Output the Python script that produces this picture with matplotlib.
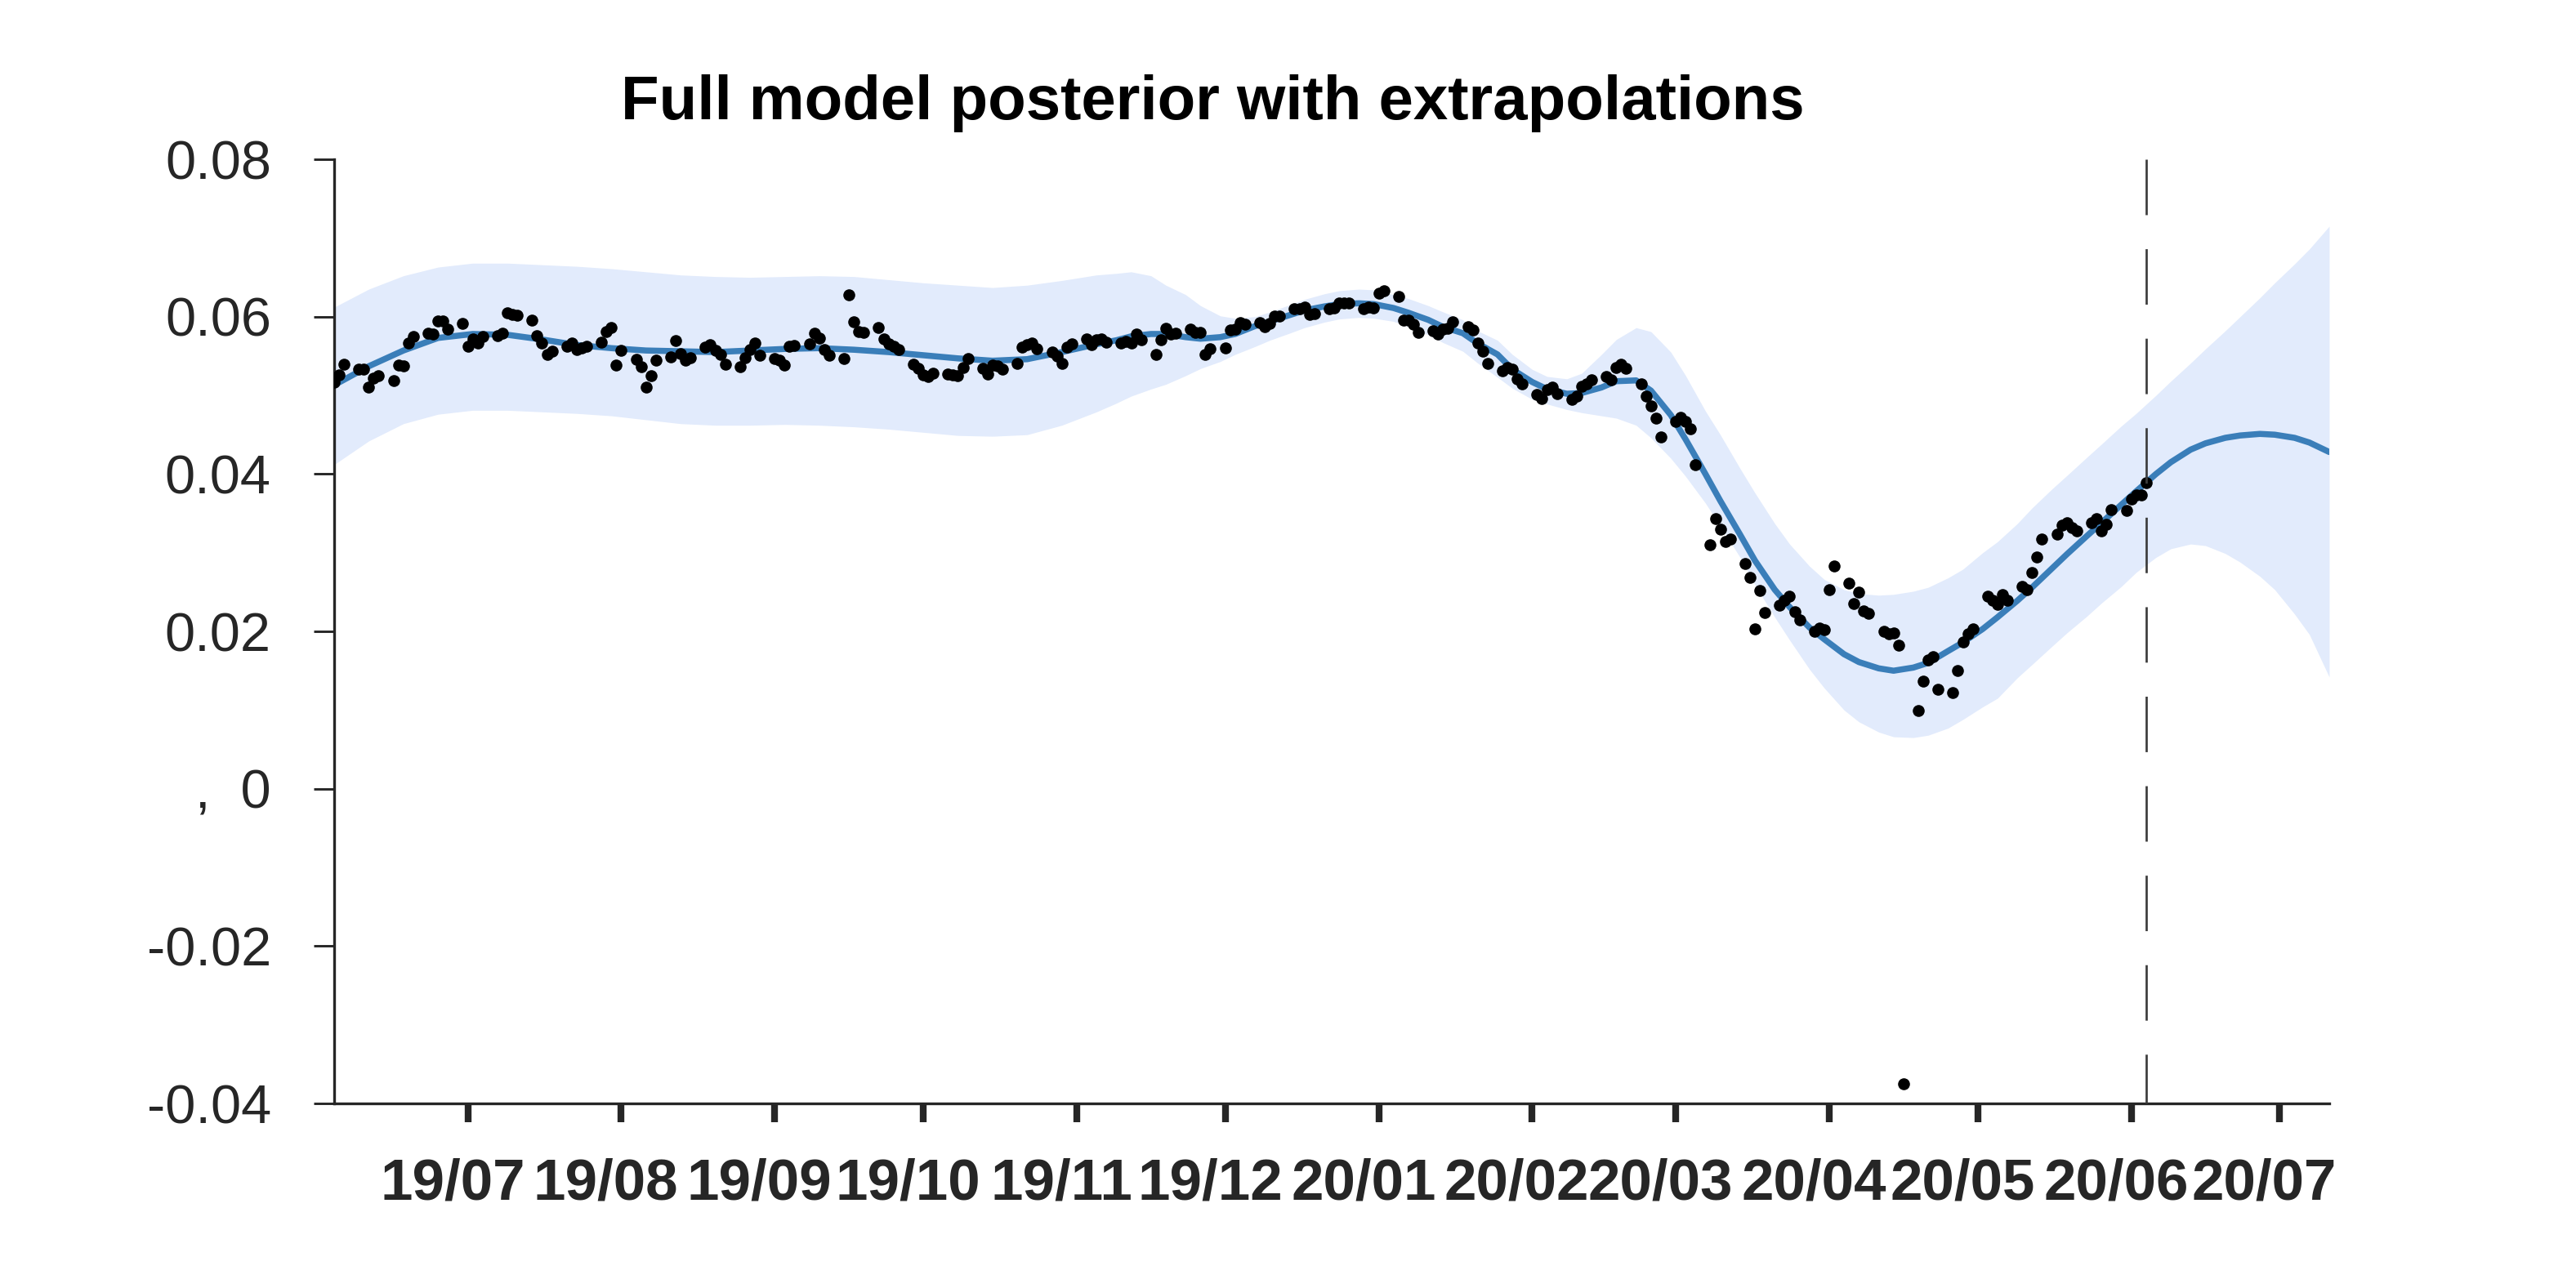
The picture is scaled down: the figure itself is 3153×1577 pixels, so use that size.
import pandas as pd
import numpy as np
import matplotlib
matplotlib.use("Agg")
import matplotlib.pyplot as plt
import matplotlib.dates as mdates
import matplotlib.transforms as mtransforms

plt.rcParams['font.family'] = ['Liberation Sans', 'DejaVu Sans']
plt.rcParams['lines.scale_dashes'] = False

# observed values, one per trading day (263 points, Jun 2019 - Jun 2020)
obs_start = "2019-06-05"
obs_values = [
    0.0517, 0.0526, 0.0539,
    0.0533, 0.0533, 0.0510, 0.0522, 0.0525,
    0.0519, 0.0538, 0.0537, 0.0566, 0.0575,
    0.0579, 0.0578, 0.0595, 0.0595, 0.0584,
    0.0591, 0.0562, 0.0572, 0.0567, 0.0575,
    0.0576, 0.0579, 0.0605, 0.0603, 0.0602,
    0.0596, 0.0576, 0.0567, 0.0552, 0.0556,
    0.0562, 0.0567, 0.0558, 0.0560, 0.0562,
    0.0568, 0.0581, 0.0586, 0.0538, 0.0557,
    0.0546, 0.0536, 0.0510, 0.0525, 0.0545,
    0.0549, 0.0570, 0.0553, 0.0545, 0.0548,
    0.0561, 0.0564, 0.0557, 0.0552, 0.0540,
    0.0536, 0.0548, 0.0558, 0.0566, 0.0551,
    # Sep - Nov 2019
    0.0547, 0.0545, 0.0538, 0.0562, 0.0563,
    0.0565, 0.0579, 0.0573, 0.0558, 0.0551,
    0.0547, 0.0628, 0.0593, 0.0581, 0.0580,
    0.0586, 0.0572, 0.0565, 0.0562, 0.0558,
    0.0540, 0.0534, 0.0526, 0.0524, 0.0528,
    0.0527, 0.0526, 0.0525, 0.0535, 0.0547,
    0.0534, 0.0527, 0.0538, 0.0537, 0.0533,
    0.0541, 0.0561, 0.0564, 0.0567, 0.0559,
    0.0555, 0.0550, 0.0541, 0.0561, 0.0565,
    0.0572, 0.0564, 0.0571, 0.0572, 0.0568,
    0.0567, 0.0569, 0.0567, 0.0578, 0.0571,
    0.0552, 0.0571, 0.0585, 0.0578,
    # Nov 2019 - Feb 2020
    0.0579, 0.0584, 0.0580, 0.0580, 0.0552,
    0.0559, 0.0560, 0.0583, 0.0584, 0.0592,
    0.0590, 0.0592, 0.0587, 0.0591, 0.0601,
    0.0601, 0.0610, 0.0610, 0.0612, 0.0603,
    0.0604, 0.0610, 0.0611, 0.0617, 0.0617,
    0.0617, 0.0610, 0.0612, 0.0611, 0.0630,
    0.0633, 0.0626, 0.0596, 0.0596, 0.0590,
    0.0580, 0.0582, 0.0578, 0.0584, 0.0585,
    0.0593, 0.0587, 0.0583, 0.0567, 0.0556,
    0.0541, 0.0531, 0.0535, 0.0533, 0.0521,
    0.0515, 0.0501, 0.0496, 0.0507, 0.0510,
    0.0502, 0.0495, 0.0499, 0.0512, 0.0515,
    0.0520,
    # Feb - May 2020
    0.0524, 0.0520, 0.0535, 0.0540, 0.0534,
    0.0515, 0.0499, 0.0487, 0.0471, 0.0447,
    0.0467, 0.0472, 0.0467, 0.0458, 0.0412,
    0.0310, 0.0343, 0.0330, 0.0314, 0.0317,
    0.0286, 0.0269, 0.0203, 0.0252, 0.0224,
    0.0233, 0.0240, 0.0245, 0.0225, 0.0215,
    0.0200, 0.0204, 0.0202, 0.0253, 0.0283,
    0.0261, 0.0235, 0.0250, 0.0226, 0.0223,
    0.0200, 0.0197, 0.0198, 0.0182, -0.0375,
    0.0099, 0.0137, 0.0164, 0.0168, 0.0126,
    0.0122, 0.0150, 0.0187, 0.0197, 0.0203,
    0.0245, 0.0240, 0.0234, 0.0247,
    # May - Jun 2020
    0.0240, 0.0257, 0.0253, 0.0275, 0.0294,
    0.0317, 0.0324, 0.0335, 0.0338, 0.0332,
    0.0328, 0.0338, 0.0343, 0.0328, 0.0336,
    0.0355, 0.0354, 0.0368, 0.0373, 0.0373,
    0.0389,
]

# posterior curve, part 1: weekly knots 2019-06-04 .. 2019-11-05
weekly_start = "2019-06-04"
weekly_mean = [
    0.0513, 0.0537, 0.0557, 0.0573, 0.0578, 0.0577, 0.0571, 0.0564, 0.0560, 0.0557,
    0.0556, 0.0555, 0.0557, 0.0559, 0.0560, 0.0558, 0.0555, 0.0551, 0.0547, 0.0544,
    0.0546, 0.0555, 0.0565,
]
weekly_upper = [
    0.0612, 0.0635, 0.0652, 0.0663, 0.0668, 0.0668, 0.0666, 0.0664, 0.0661, 0.0657,
    0.0653, 0.0651, 0.0650, 0.0651, 0.0652, 0.0651, 0.0647, 0.0643, 0.0640, 0.0637,
    0.0640, 0.0646, 0.0653,
]
weekly_lower = [
    0.0412, 0.0442, 0.0464, 0.0476, 0.0481, 0.0481, 0.0479, 0.0477, 0.0474, 0.0469,
    0.0464, 0.0462, 0.0462, 0.0463, 0.0462, 0.0460, 0.0457, 0.0453, 0.0449, 0.0448,
    0.0450, 0.0462, 0.0479,
]

# part 2: knots every Saturday and Tuesday 2019-11-09 .. 2020-07-11
dense_start = "2019-11-09"
dense_end = "2020-07-11"
dense_mean = [
    0.0570, 0.0575, 0.0578, 0.0578, 0.0574, 0.0572, 0.0574, 0.0578, 0.0588, 0.0594,
    0.0602, 0.0608, 0.0613, 0.0616, 0.0617, 0.0616, 0.0611, 0.0605, 0.0596, 0.0587,
    0.0579, 0.0566, 0.0552, 0.0533, 0.0517, 0.0508, 0.0502, 0.0503, 0.0510, 0.0518,
    0.0519, 0.0506, 0.0475, 0.0444, 0.0400, 0.0366, 0.0323, 0.0290, 0.0253, 0.0231,
    0.0205, 0.0190, 0.0171, 0.0161, 0.0153, 0.0150, 0.0154, 0.0160, 0.0175, 0.0186,
    0.0203, 0.0218, 0.0239, 0.0256, 0.0280, 0.0298, 0.0321, 0.0338, 0.0361, 0.0378,
    0.0400, 0.0415, 0.0431, 0.0439, 0.0446, 0.0449, 0.0451, 0.0450, 0.0446, 0.0440,
    0.0428,
]
dense_upper = [
    0.0655, 0.0657, 0.0652, 0.0640, 0.0628, 0.0614, 0.0601, 0.0598, 0.0600, 0.0606,
    0.0615, 0.0622, 0.0629, 0.0633, 0.0635, 0.0634, 0.0628, 0.0623, 0.0614, 0.0606,
    0.0596, 0.0582, 0.0570, 0.0552, 0.0533, 0.0524, 0.0521, 0.0528, 0.0552, 0.0571,
    0.0586, 0.0581, 0.0555, 0.0525, 0.0480, 0.0450, 0.0407, 0.0376, 0.0337, 0.0311,
    0.0283, 0.0266, 0.0253, 0.0248, 0.0246, 0.0247, 0.0251, 0.0256, 0.0268, 0.0279,
    0.0300, 0.0314, 0.0337, 0.0357, 0.0381, 0.0398, 0.0421, 0.0438, 0.0461, 0.0477,
    0.0500, 0.0518, 0.0541, 0.0559, 0.0582, 0.0600, 0.0624, 0.0643, 0.0667, 0.0686,
    0.0715,
]
dense_lower = [
    0.0490, 0.0499, 0.0508, 0.0514, 0.0525, 0.0534, 0.0543, 0.0552, 0.0562, 0.0570,
    0.0579, 0.0586, 0.0593, 0.0597, 0.0599, 0.0598, 0.0594, 0.0587, 0.0577, 0.0567,
    0.0556, 0.0541, 0.0523, 0.0509, 0.0495, 0.0489, 0.0482, 0.0478, 0.0474, 0.0471,
    0.0462, 0.0446, 0.0420, 0.0397, 0.0363, 0.0334, 0.0294, 0.0259, 0.0218, 0.0189,
    0.0152, 0.0128, 0.0100, 0.0085, 0.0072, 0.0066, 0.0065, 0.0068, 0.0077, 0.0088,
    0.0104, 0.0115, 0.0141, 0.0158, 0.0181, 0.0198, 0.0219, 0.0236, 0.0257, 0.0275,
    0.0294, 0.0305, 0.0311, 0.0309, 0.0299, 0.0288, 0.0270, 0.0253, 0.0222, 0.0196,
    0.0142,
]

y_ticks = [-0.04, -0.02, 0, 0.02, 0.04, 0.06, 0.08]
y_tick_labels = ["-0.04", "-0.02", ",  0", "0.02", "0.04", "0.06", "0.08"]

# the plot puts each observation one day before its trading date
obs_dates = pd.bdate_range(obs_start, periods=len(obs_values)) - pd.Timedelta(days=1)

weekly_dates = pd.date_range(weekly_start, periods=len(weekly_mean), freq="7D")
dense_dates = pd.date_range(dense_start, dense_end, freq="W-SAT").union(
    pd.date_range(dense_start, dense_end, freq="W-TUE"))
curve_dates = weekly_dates.append(dense_dates)
post_mean = weekly_mean + dense_mean
post_upper = weekly_upper + dense_upper
post_lower = weekly_lower + dense_lower

fig = plt.figure(figsize=(3153 / 300, 1577 / 300), dpi=300)
ax = fig.add_axes([0.1297, 0.1433, 0.7745, 0.7330])

ax.fill_between(curve_dates, post_lower, post_upper, color="#e2ebfc", lw=0, zorder=1)
ax.plot(curve_dates, post_mean, color="#3a7eb9", lw=1.8, zorder=2,
        solid_capstyle="round", solid_joinstyle="round")
ax.plot(obs_dates, obs_values, "o", color="black", ms=3.5, mew=0, zorder=3)
ax.plot([obs_dates[-1], obs_dates[-1]], [0.08, -0.04], color="#3c3c3c", lw=0.65,
        dashes=(16.3, 10), zorder=4)

ax.set_xlim(pd.Timestamp(weekly_start), pd.Timestamp(dense_end))
ax.set_ylim(-0.04, 0.08)

ax.spines["top"].set_visible(False)
ax.spines["right"].set_visible(False)
for s in ["left", "bottom"]:
    ax.spines[s].set_color("#262626")
    ax.spines[s].set_linewidth(0.8)

ax.set_yticks(y_ticks)
ax.set_yticklabels(y_tick_labels)
ax.tick_params(axis="y", direction="out", length=6, width=0.7, pad=12.5,
               labelsize=16, colors="#262626")

ax.xaxis.set_major_locator(mdates.MonthLocator())
ax.xaxis.set_major_formatter(mdates.DateFormatter("%y/%m"))
ax.tick_params(axis="x", direction="out", length=5.5, width=2.0, pad=10.5,
               labelsize=17, colors="#262626")
# labels sit a little left of their ticks in the original
shift = mtransforms.ScaledTranslation(-4.5 / 72, 0, fig.dpi_scale_trans)
for lab in ax.get_xticklabels():
    lab.set_fontweight("bold")
    lab.set_transform(lab.get_transform() + shift)

fig.text(0.4707, 0.9195, "Full model posterior with extrapolations",
         ha="center", va="center", fontsize=18.3, fontweight="bold")

fig.savefig("out.png", dpi=300, facecolor="white")
